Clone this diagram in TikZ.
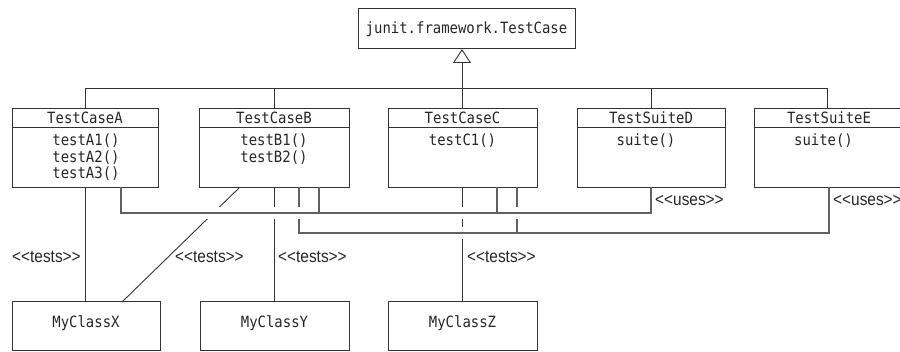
\documentclass[tikz,border=0pt]{standalone}
\usepackage{fontspec}
\newfontfamily\monof[FakeStretch=0.9]{DejaVu Sans Mono}
\newfontfamily\labf[FakeStretch=0.88]{Liberation Sans}
\usetikzlibrary{arrows.meta,calc}
\begin{document}
\begin{tikzpicture}[x=1pt,y=-1pt,
  box/.style={draw=black!80, line width=1pt, fill=white, inner sep=0pt, outer sep=0pt},
  mono/.style={font=\monof\fontsize{15.5}{18}\selectfont, inner sep=0pt, anchor=base, text=black!85},
  lab/.style={font=\labf\fontsize{17.5}{20}\selectfont, inner sep=0pt, anchor=base west, text=black!85},
  tests/.style={draw=black!80, line width=0.9pt},
  uses/.style={draw=black!62, line width=1.4pt, line cap=rect},
  gap/.style={preaction={draw=white, line width=12pt, line cap=butt}},
  inh/.style={draw=black!80, line width=0.9pt},
]
\useasboundingbox (0,0) rectangle (900,352);

% top class
\node[box, minimum width=217pt, minimum height=40pt] (T) at (466.5,29) {};
\node[mono] (Tt) at (466.5,33.5) {junit.framework.TestCase};

% TestCaseA
\node[box, minimum width=146pt, minimum height=19pt] (Ah) at (85,118.5) {};
\node[box, minimum width=146pt, minimum height=60pt] (Ab) at (85,158) {};
\node[mono] (At) at (85,123.5) {TestCaseA};
\node[mono] (A1) at (86,146) {testA1()};
\node[mono] (A2) at (86,162.5) {testA2()};
\node[mono] (A3) at (86,179) {testA3()};

% TestCaseB
\node[box, minimum width=150pt, minimum height=19pt] (Bh) at (274,118.5) {};
\node[box, minimum width=150pt, minimum height=60pt] (Bb) at (274,158) {};
\node[mono] (Bt) at (274,123.5) {TestCaseB};
\node[mono] (B1) at (274,146) {testB1()};
\node[mono] (B2) at (274,162.5) {testB2()};

% TestCaseC
\node[box, minimum width=149pt, minimum height=19pt] (Ch) at (462.5,118.5) {};
\node[box, minimum width=149pt, minimum height=60pt] (Cb) at (462.5,158) {};
\node[mono] (Ct) at (462.5,123.5) {TestCaseC};
\node[mono] (C1) at (462.5,146) {testC1()};

% TestSuiteD
\node[box, minimum width=148pt, minimum height=19pt] (Dh) at (651,118.5) {};
\node[box, minimum width=148pt, minimum height=60pt] (Db) at (651,158) {};
\node[mono] (Dt) at (651,123.5) {TestSuiteD};
\node[mono] (D1) at (646,146) {suite()};

% TestSuiteE
\node[box, minimum width=146pt, minimum height=19pt] (Eh) at (827,118.5) {};
\node[box, minimum width=146pt, minimum height=60pt] (Eb) at (827,158) {};
\node[mono] (Et) at (829,123.5) {TestSuiteE};
\node[mono] (E1) at (823.5,146) {suite()};

% bottom classes
\node[box, minimum width=148pt, minimum height=49pt] (X) at (86,326.5) {};
\node[mono] (Xt) at (86,328) {MyClassX};
\node[box, minimum width=149pt, minimum height=49pt] (Y) at (274.5,326.5) {};
\node[mono] (Yt) at (274.5,328) {MyClassY};
\node[box, minimum width=149pt, minimum height=49pt] (Z) at (462.5,326.5) {};
\node[mono] (Zt) at (462.5,328) {MyClassZ};

% inheritance
\coordinate (bar) at (462,88);
\draw[inh] (Ah.north) -- (Ah.north |- bar) -- (Eh.north |- bar) -- (Eh.north);
\draw[inh] (Bh.north) -- (Bh.north |- bar);
\draw[inh] (Dh.north) -- (Dh.north |- bar);
\draw[inh] (bar |- Ch.north) -- (bar);
\draw[inh, -{Triangle[open, length=14pt, width=18pt, line width=0.9pt]}] (bar) -- (bar |- T.south);

% named connector points
\coordinate (a1) at ([xshift=109pt]Ab.south west);
\coordinate (b1) at ([xshift=120pt]Bb.south west);
\coordinate (b2) at ([xshift=100pt]Bb.south west);
\coordinate (bd) at ([xshift=40pt]Bb.south west);
\coordinate (c1) at ([xshift=109pt]Cb.south west);
\coordinate (c2) at ([xshift=129pt]Cb.south west);
\coordinate (d1) at (Db.south);
\coordinate (e2) at ([xshift=75pt]Eb.south west);
\coordinate (xd) at ([xshift=110pt]X.north west);
\coordinate (u1) at (0,213);
\coordinate (u2) at (0,233);

% tests connectors
\draw[tests] (Ab.south) -- (Ab.south |- X.north);
\draw[tests] (bd) -- (xd);
\draw[tests] (Bb.south) -- (Bb.south |- Y.north);
\draw[tests] (Cb.south) -- (Cb.south |- Z.north);

% uses (E) connector
\draw[uses, gap] (b2 |- u2) -- (e2 |- u2);
\draw[uses] (b2) -- (b2 |- u2);
\draw[uses] (c2) -- (c2 |- u2);
\draw[uses] (e2) -- (e2 |- u2);

% uses (D) connector
\draw[uses, gap] (a1 |- u1) -- (d1 |- u1);
\draw[uses] (a1) -- (a1 |- u1);
\draw[uses] (b1) -- (b1 |- u1);
\draw[uses] (c1) -- (c1 |- u1);
\draw[uses] (d1) -- (d1 |- u1);

% labels
\node[lab] (lt1) at (12,263) {<<tests>>};
\node[lab] (lt2) at (175,263) {<<tests>>};
\node[lab] (lt3) at (278,263) {<<tests>>};
\node[lab] (lt4) at (467,263) {<<tests>>};
\node[lab] (lu1) at (655,206) {<<uses>>};
\node[lab] (lu2) at (833,206) {<<uses>>};
\end{tikzpicture}
\end{document}
